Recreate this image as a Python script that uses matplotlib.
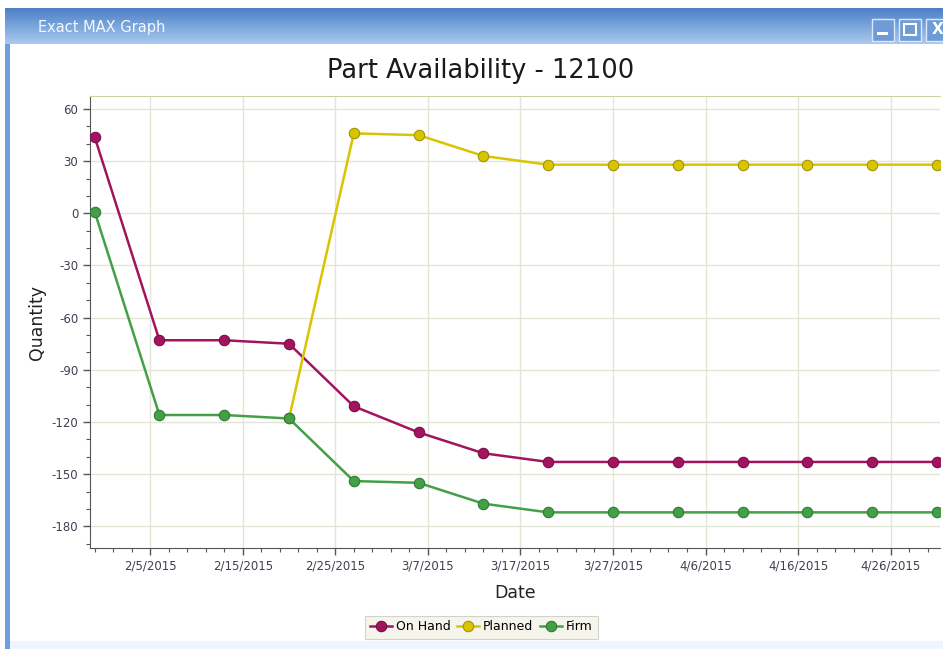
import numpy as np
import pandas as pd
import matplotlib
matplotlib.use("Agg")
import matplotlib.pyplot as plt
import matplotlib.dates as mdates
from matplotlib.ticker import MultipleLocator, FuncFormatter
from matplotlib.patches import Rectangle

plt.rcParams["axes.unicode_minus"] = False

dates = pd.to_datetime([
    "2015-01-30", "2015-02-06", "2015-02-13", "2015-02-20", "2015-02-27",
    "2015-03-06", "2015-03-13", "2015-03-20", "2015-03-27", "2015-04-03",
    "2015-04-10", "2015-04-17", "2015-04-24", "2015-05-01",
])
on_hand = [44, -73, -73, -75, -111, -126, -138, -143, -143, -143, -143, -143, -143, -143]
planned = [np.nan, np.nan, np.nan, -118, 46, 45, 33, 28, 28, 28, 28, 28, 28, 28]
firm = [1, -116, -116, -118, -154, -155, -167, -172, -172, -172, -172, -172, -172, -172]

series = [
    ("On Hand", on_hand, "#a3145f", "#7a0c45"),
    ("Planned", planned, "#d9c400", "#a39400"),
    ("Firm", firm, "#43a047", "#2e7a35"),
]

W, H = 943, 649
fig = plt.figure(figsize=(W / 100, H / 100), dpi=100)
fig.patch.set_facecolor("white")

def px(x0, y0, x1, y1):
    # figure fraction box from pixel coords (top-left origin)
    return [x0 / W, 1 - y1 / H, (x1 - x0) / W, (y1 - y0) / H]

# window frame: title bar gradient
bar = fig.add_axes(px(5, 8, W, 44))
grad = np.linspace(0, 1, 50).reshape(-1, 1)
cmap = matplotlib.colors.LinearSegmentedColormap.from_list("bar", ["#4d7fc6", "#7aa6dc", "#a9c9ee"])
bar.imshow(grad, aspect="auto", cmap=cmap, extent=[0, 1, 0, 1], origin="upper")
bar.set_axis_off()
bar.text(0.035, 0.45, "Exact MAX Graph", color="#f4f8ff", fontsize=10.5,
         va="center", ha="left", transform=bar.transAxes, family="DejaVu Sans Condensed")
for x0 in (872, 899, 926):
    fig.patches.append(Rectangle((x0 / W, 1 - 41 / H), 22 / W, 22 / H, transform=fig.transFigure,
                                 facecolor="#6f9bd6", edgecolor="#dbe8f8", lw=1.0, zorder=5))
# button glyphs
fig.patches.append(Rectangle((877 / W, 1 - 35 / H), 11 / W, 3 / H, transform=fig.transFigure,
                             facecolor="white", edgecolor="none", zorder=6))
fig.patches.append(Rectangle((904 / W, 1 - 35 / H), 12 / W, 11 / H, transform=fig.transFigure,
                             facecolor="none", edgecolor="white", lw=1.5, zorder=6))
fig.text(932 / W, 1 - 30 / H, "X", color="white", fontsize=11, fontweight="bold",
         ha="left", va="center", zorder=7)
fig.patches.append(Rectangle((5 / W, 0), 5 / W, 1 - 44 / H, transform=fig.transFigure,
                             facecolor="#6d9ee0", edgecolor="none", zorder=5))
fig.patches.append(Rectangle((10 / W, 0), 933 / W, 8 / H, transform=fig.transFigure,
                             facecolor="#eef5fc", edgecolor="none", zorder=1))

ax = fig.add_axes(px(90, 96, 940, 548))
for label, vals, col, edge in series:
    ax.plot(dates, vals, color=col, lw=1.8, marker="o", markersize=7.5,
            markerfacecolor=col, markeredgecolor=edge, markeredgewidth=0.8,
            label=label, clip_on=True, zorder=3)

ax.set_ylim(-192.5, 67.5)
ax.set_xlim(mdates.date2num(pd.Timestamp("2015-01-29 12:00")),
            mdates.date2num(pd.Timestamp("2015-05-01 08:00")))
ax.yaxis.set_major_locator(MultipleLocator(30))
ax.yaxis.set_minor_locator(MultipleLocator(10))
off = mdates.date2num(pd.Timestamp("2015-02-05")) % 10
ax.xaxis.set_major_locator(MultipleLocator(10, offset=off))
ax.xaxis.set_minor_locator(MultipleLocator(2, offset=off % 2))
ax.xaxis.set_major_formatter(FuncFormatter(
    lambda v, p: "{d.month}/{d.day}/{d.year}".format(d=mdates.num2date(v))))

ax.grid(True, which="major", color="#e3e6d6", lw=1.0, zorder=0)
ax.tick_params(axis="both", which="major", labelsize=8.5, labelcolor="#3d4250",
               color="#555555", length=5, width=1.0)
ax.tick_params(axis="both", which="minor", color="#555555", length=3, width=0.8)
for s in ("left", "bottom"):
    ax.spines[s].set_color("#555555")
ax.spines["top"].set_color("#c9d2a6")
ax.spines["right"].set_visible(False)

ax.set_xlabel("Date", fontsize=12.5, color="#222222", labelpad=8)
ax.set_ylabel("Quantity", fontsize=12.5, color="#222222", labelpad=4)
fig.text(481 / W, 1 - 71 / H, "Part Availability - 12100", fontsize=18.5,
         color="#1a1a1a", ha="center", va="center")

leg = fig.legend(loc="center", bbox_to_anchor=(481 / W, 1 - 627 / H), ncol=3,
                 fontsize=9, frameon=True, handlelength=1.8, handletextpad=0.3,
                 columnspacing=0.5, borderpad=0.4, fancybox=False)
leg.get_frame().set_facecolor("#f4f3e6")
leg.get_frame().set_edgecolor("#c8c8c0")
leg.get_frame().set_linewidth(0.8)

fig.savefig("out.png", dpi=100)
